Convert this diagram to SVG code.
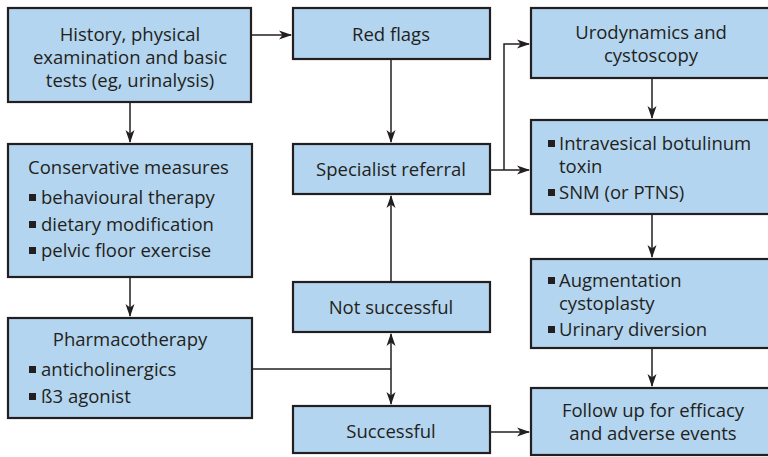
<svg xmlns="http://www.w3.org/2000/svg" width="768" height="457" viewBox="0 0 768 457">
<defs>
<marker id="ah" markerUnits="userSpaceOnUse" markerWidth="14" markerHeight="10" refX="12" refY="5" orient="auto-start-reverse" viewBox="0 0 14 10">
<path d="M0,0.5 L13,5 L0,9.5 L3.5,5 Z" fill="#231f20"/>
</marker>
<style>
.box{fill:#b3d5ef;stroke:#231f20;stroke-width:2.2}
text{font-family:"Open Sans","Liberation Sans",sans-serif;font-size:18.5px;fill:#231f20}
.c{text-anchor:middle}
.b{fill:#231f20}
.ln{fill:none;stroke:#231f20;stroke-width:1.5}
</style>
</defs>
<rect width="768" height="457" fill="#ffffff"/>
<g id="history">
<rect class="box" x="8" y="8" width="243" height="94"/>
<text class="c" x="130" y="41">History, physical<tspan x="130" dy="23">examination and basic</tspan><tspan x="130" dy="23">tests (eg, urinalysis)</tspan></text>
</g>
<g id="conservative">
<rect class="box" x="8" y="144" width="244" height="133"/>
<text x="28" y="174">Conservative measures</text>
<rect class="b" x="29" y="194" width="7" height="7"/>
<text x="41" y="204">behavioural therapy</text>
<rect class="b" x="29" y="221" width="7" height="7"/>
<text x="41" y="231">dietary modification</text>
<rect class="b" x="29" y="247" width="7" height="7"/>
<text x="41" y="257">pelvic floor exercise</text>
</g>
<g id="pharmacotherapy">
<rect class="box" x="8" y="318" width="244" height="100"/>
<text class="c" x="130" y="346">Pharmacotherapy</text>
<rect class="b" x="29" y="366" width="7" height="7"/>
<text x="41" y="376">anticholinergics</text>
<rect class="b" x="29" y="393" width="7" height="7"/>
<text x="41" y="403">ß3 agonist</text>
</g>
<g id="redflags">
<rect class="box" x="293" y="8" width="197" height="51"/>
<text class="c" x="391" y="41">Red flags</text>
</g>
<g id="specialist">
<rect class="box" x="293" y="144" width="197" height="50"/>
<text class="c" x="391" y="176">Specialist referral</text>
</g>
<g id="notsuccessful">
<rect class="box" x="293" y="282" width="197" height="50"/>
<text class="c" x="391" y="314">Not successful</text>
</g>
<g id="successful">
<rect class="box" x="293" y="406" width="197" height="47"/>
<text class="c" x="391" y="438">Successful</text>
</g>
<g id="urodynamics">
<rect class="box" x="531" y="8" width="250" height="70"/>
<text class="c" x="651" y="39">Urodynamics and<tspan x="651" dy="23">cystoscopy</tspan></text>
</g>
<g id="botulinum">
<rect class="box" x="531" y="120" width="250" height="94"/>
<rect class="b" x="548" y="140" width="7" height="7"/>
<text x="559" y="150">Intravesical botulinum<tspan x="559" dy="23">toxin</tspan></text>
<rect class="b" x="548" y="189" width="7" height="7"/>
<text x="559" y="199">SNM (or PTNS)</text>
</g>
<g id="augmentation">
<rect class="box" x="531" y="259" width="250" height="89"/>
<rect class="b" x="548" y="277" width="7" height="7"/>
<text x="559" y="287">Augmentation<tspan x="559" dy="23">cystoplasty</tspan></text>
<rect class="b" x="548" y="326" width="7" height="7"/>
<text x="559" y="336">Urinary diversion</text>
</g>
<g id="followup">
<rect class="box" x="531" y="388" width="250" height="67"/>
<text class="c" x="653" y="417">Follow up for efficacy<tspan x="653" dy="23">and adverse events</tspan></text>
</g>
<g id="connectors">
<path class="ln" d="M251,35 H291" marker-end="url(#ah)"/>
<path class="ln" d="M130,102 V142" marker-end="url(#ah)"/>
<path class="ln" d="M130,277 V316" marker-end="url(#ah)"/>
<path class="ln" d="M391,59 V142" marker-end="url(#ah)"/>
<path class="ln" d="M490,170 H529" marker-end="url(#ah)"/>
<path class="ln" d="M504,170 V44 H529" marker-end="url(#ah)"/>
<path class="ln" d="M652,78 V118" marker-end="url(#ah)"/>
<path class="ln" d="M652,214 V257" marker-end="url(#ah)"/>
<path class="ln" d="M652,348 V386" marker-end="url(#ah)"/>
<path class="ln" d="M490,432 H529" marker-end="url(#ah)"/>
<path class="ln" d="M391,282 V196" marker-end="url(#ah)"/>
<path class="ln" d="M252,369 H391"/>
<path class="ln" d="M391,334 V404" marker-start="url(#ah)" marker-end="url(#ah)"/>
</g>
</svg>
